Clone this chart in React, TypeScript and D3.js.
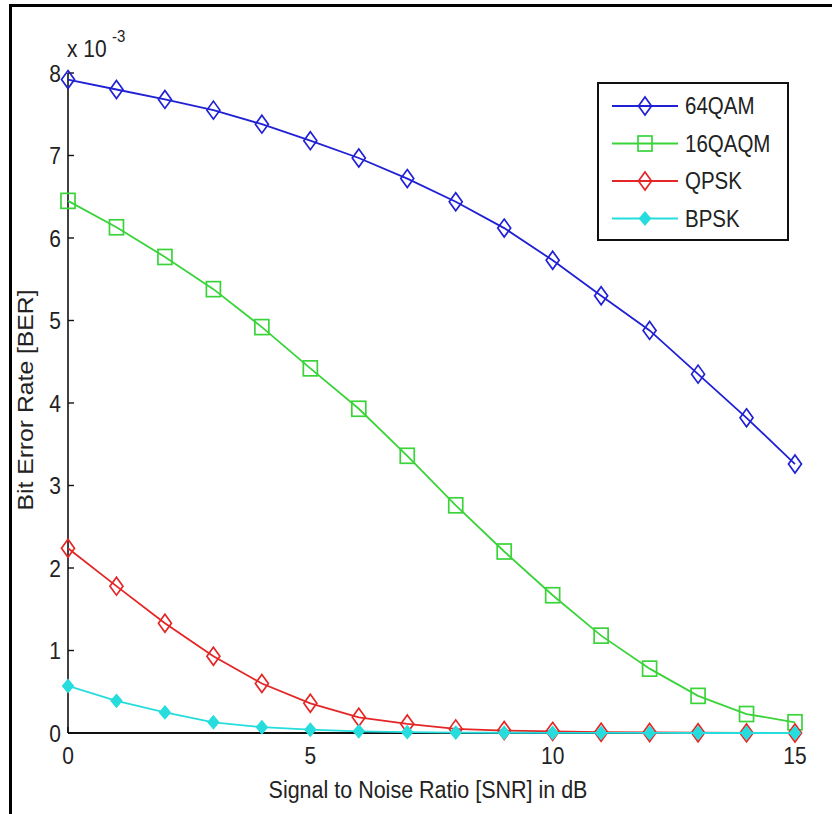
import React from 'react';
import * as d3 from 'd3';

// SNR values (dB)
const snr = [0, 1, 2, 3, 4, 5, 6, 7, 8, 9, 10, 11, 12, 13, 14, 15];

// BER values, in units of 1e-3
const qam64 = [7.92, 7.8, 7.68, 7.55, 7.38, 7.18, 6.97, 6.72, 6.44, 6.12, 5.73, 5.3, 4.88, 4.35, 3.82, 3.26];
const qam16 = [6.45, 6.13, 5.77, 5.38, 4.92, 4.42, 3.93, 3.36, 2.76, 2.2, 1.67, 1.18, 0.78, 0.45, 0.23, 0.13];
const qpsk = [2.24, 1.78, 1.33, 0.93, 0.6, 0.36, 0.19, 0.11, 0.05, 0.03, 0.02, 0.01, 0.006, 0.003, 0.001, 0.0005];
const bpsk = [0.57, 0.39, 0.25, 0.13, 0.07, 0.04, 0.02, 0.01, 0.005, 0.003, 0.002, 0.001, 0.0005, 0, 0, 0];

const xTicks = [0, 5, 10, 15];
const yTicks = [0, 1, 2, 3, 4, 5, 6, 7, 8];

const series = [
  { name: '64QAM', values: qam64, color: '#2020d4', marker: 'diamond' },
  { name: '16QAQM', values: qam16, color: '#3ad43a', marker: 'square' },
  { name: 'QPSK', values: qpsk, color: '#e42626', marker: 'diamond' },
  { name: 'BPSK', values: bpsk, color: '#27dcdc', marker: 'dot' },
];

const W = 832;
const H = 814;
const FONT = '"Liberation Sans", Arial, sans-serif';
const SY = 1.15; // the picture's text is a little taller than wide

function Marker({ type, x, y, color }: { type: string; x: number; y: number; color: string }) {
  if (type === 'diamond') {
    return <path d={`M${x},${y - 9}L${x + 6.5},${y}L${x},${y + 9}L${x - 6.5},${y}Z`} fill="none" stroke={color} strokeWidth={1.7} />;
  }
  if (type === 'square') {
    return <rect x={x - 7} y={y - 7.5} width={14} height={15} fill="none" stroke={color} strokeWidth={1.7} />;
  }
  return <path d={`M${x},${y - 6.5}L${x + 5.5},${y}L${x},${y + 6.5}L${x - 5.5},${y}Z`} fill={color} stroke={color} strokeWidth={1.2} />;
}

// horizontal text, stretched vertically around its baseline
function T({ x, y, size, anchor = 'start', children }: { x: number; y: number; size: number; anchor?: string; children: React.ReactNode }) {
  return (
    <text transform={`translate(${x},${y}) scale(1,${SY})`} fontSize={size} textAnchor={anchor} fill="#222">{children}</text>
  );
}

export default function App() {
  const x = d3.scaleLinear().domain([0, 15]).range([68, 795]);
  const y = d3.scaleLinear().domain([0, 8]).range([733, 73]);
  const line = d3.line<number>().x((_, i) => x(snr[i])).y(d => y(d));

  return (
    <svg width={W} height={H} style={{ display: 'block', background: '#fff' }} fontFamily={FONT}>
      <style>{'body{margin:0}'}</style>
      {/* image frame (top and left only) */}
      <line x1={10} y1={5.5} x2={W} y2={5.5} stroke="#000" strokeWidth={3} />
      <line x1={10.5} y1={4} x2={10.5} y2={H} stroke="#000" strokeWidth={3} />

      {/* axes */}
      <line x1={x(0)} y1={y(0)} x2={x(15)} y2={y(0)} stroke="#111" strokeWidth={2} />
      <line x1={x(0)} y1={y(0)} x2={x(0)} y2={y(8)} stroke="#111" strokeWidth={1.6} />
      {yTicks.map(t => (
        <g key={'y' + t}>
          <line x1={x(0)} x2={x(0) + 6} y1={y(t)} y2={y(t)} stroke="#111" strokeWidth={1.4} />
          <T x={x(0) - 7} y={y(t) + 8.5} size={21} anchor="end">{t}</T>
        </g>
      ))}
      {xTicks.map(t => (
        <g key={'x' + t}>
          <line x1={x(t)} x2={x(t)} y1={y(0)} y2={y(0) - 6} stroke="#111" strokeWidth={1.4} />
          <T x={x(t)} y={y(0) + 31} size={21} anchor="middle">{t}</T>
        </g>
      ))}
      <T x={67} y={57} size={21}>x 10</T>
      <T x={112} y={42} size={15}>-3</T>

      <T x={428} y={798} size={21.5} anchor="middle">Signal to Noise Ratio [SNR] in dB</T>
      <text transform={`translate(33,400) scale(1,${SY}) rotate(-90)`} textAnchor="middle" fontSize={21.5} fill="#222">Bit Error Rate [BER]</text>

      {/* series */}
      {series.map(s => (
        <g key={s.name}>
          <path d={line(s.values) || ''} fill="none" stroke={s.color} strokeWidth={1.8} />
          {s.values.map((v, i) => (
            <Marker key={i} type={s.marker} x={x(snr[i])} y={y(v)} color={s.color} />
          ))}
        </g>
      ))}

      {/* legend */}
      <rect x={598} y={83} width={190} height={157} fill="#fff" stroke="#111" strokeWidth={2} />
      {series.map((s, i) => {
        const ly = 106 + i * 37.5;
        return (
          <g key={'lg' + s.name}>
            <line x1={612} x2={678} y1={ly} y2={ly} stroke={s.color} strokeWidth={1.8} />
            <Marker type={s.marker} x={645} y={ly} color={s.color} />
            <T x={685} y={ly + 8} size={20.5}>{s.name}</T>
          </g>
        );
      })}
    </svg>
  );
}
